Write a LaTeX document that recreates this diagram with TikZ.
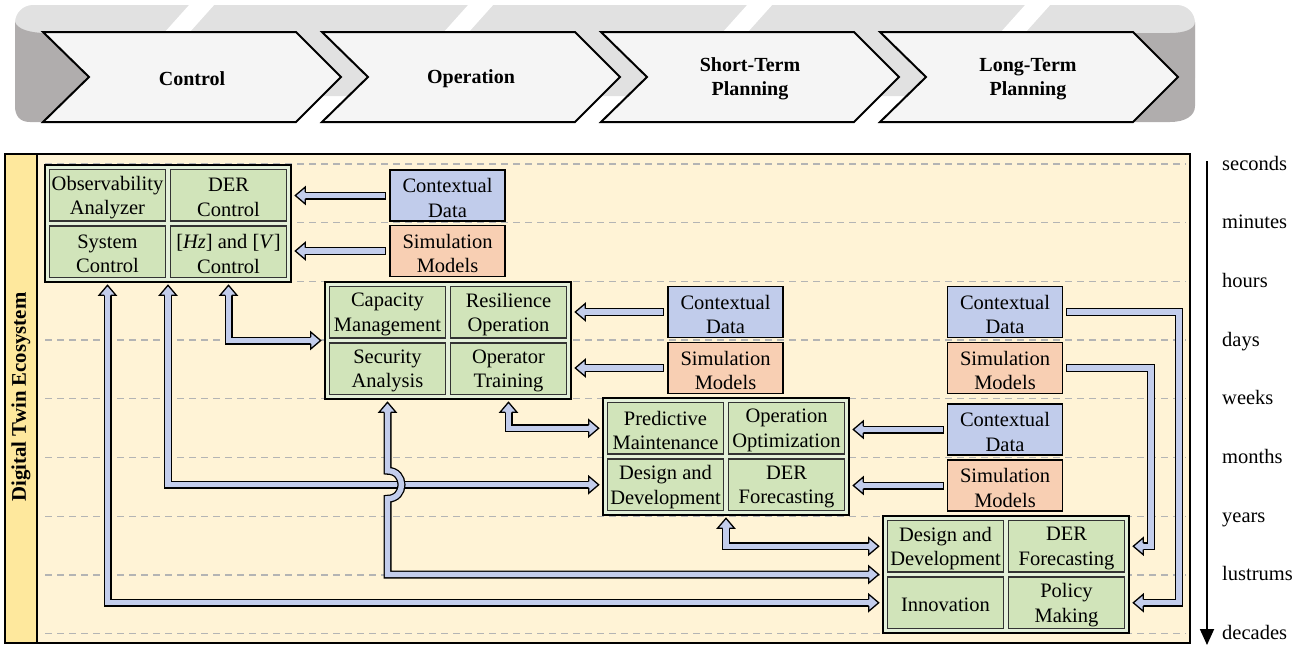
\documentclass[tikz,border=0pt]{standalone}
\usepackage{fontspec}
\setmainfont{Liberation Serif}
\usetikzlibrary{calc,arrows.meta}
\definecolor{cream}{HTML}{FFF3D6}
\definecolor{stripc}{HTML}{FEE89D}
\definecolor{gout}{HTML}{E4F0DA}
\definecolor{gcell}{HTML}{D1E4BA}
\definecolor{cdblue}{HTML}{C1CCEB}
\definecolor{smor}{HTML}{F8CFB3}
\definecolor{arrb}{HTML}{C3CDEC}
\definecolor{bandl}{HTML}{E1E1E1}
\definecolor{bandd}{HTML}{B0ADAD}
\definecolor{chev}{HTML}{F5F5F5}
\definecolor{dashc}{HTML}{B4B4B4}
\newcommand{\mycell}[5]{%
  \node[#1] (#2) at (#3,#4) {};
  \node[txt] (#2t) at (#3,#4+2.3) {#5};}
\begin{document}
\begin{tikzpicture}[x=1pt,y=-1pt,
  txt/.style={font=\fontsize{20.5}{24.5}\selectfont, align=center, inner sep=0pt},
  cell/.style={draw=black!80, fill=gcell, line width=1.2pt, minimum width=116pt, minimum height=51.5pt, inner sep=0pt},
  grp/.style={draw=black, fill=gout, line width=2.6pt, minimum width=246pt, minimum height=117pt, inner sep=0pt},
  side/.style={draw=black, line width=1.2pt, minimum width=115pt, minimum height=51pt, inner sep=0pt},
  cdbox/.style={side, fill=cdblue},
  smbox/.style={side, fill=smor},
  shaft/.style={draw=black, line width=1.3pt, double=arrb, double distance=5.4pt, line cap=rect, line join=miter},
  hd/.style={fill=arrb, draw=black, line width=1.3pt, line join=miter},
  headR/.pic={\filldraw[hd] (-10,-3.35) -- (-10,-8.5) -- (0,0) -- (-10,8.5) -- (-10,3.35);},
  headL/.pic={\filldraw[hd] (10,-3.35) -- (10,-8.5) -- (0,0) -- (10,8.5) -- (10,3.35);},
  headU/.pic={\filldraw[hd] (-3.35,10) -- (-8.5,10) -- (0,0) -- (8.5,10) -- (3.35,10);},
  chevtxt/.style={font=\fontsize{20}{24}\selectfont\bfseries, align=center, inner sep=0pt},
  tlab/.style={font=\fontsize{20.5}{24.5}\selectfont, anchor=base west, inner sep=0pt},
]
\useasboundingbox (0,0) rectangle (1304,646);

% ---------- banner ----------
\fill[bandl, rounded corners=18pt] (15,96) -- (15,5) -- (1195,5) -- (1195,96) -- cycle;
\foreach \c in {192,471,750,1028}
  \fill[white] (\c-2,4) -- (\c+23,4) -- (\c-3,33) -- (\c-28,33) -- cycle;
\fill[bandd] (15,22) .. controls (17,29) and (30,33) .. (46,33) -- (100,33) -- (100,122) -- (30,122) .. controls (20,122) and (15,116) .. (15,106) -- cycle;
\fill[bandd] (1120,33) -- (1170,33) .. controls (1185,33) and (1195,29) .. (1195,22) -- (1195,106) .. controls (1195,116) and (1185,122) .. (1170,122) -- (1120,122) -- cycle;
\foreach \i in {0,1,2,3} {
  \pgfmathsetmacro\L{43+279*\i}
  \filldraw[fill=chev, line width=2pt, line join=miter] (\L,32) -- (\L+253,32) -- (\L+298,77) -- (\L+253,122) -- (\L,122) -- (\L+46,77) -- cycle;
}
\node[chevtxt] (ph1) at (192,79) {Control};
\node[chevtxt] (ph2) at (471,79) {Operation};
\node[chevtxt] (ph3) at (750,79) {Short-Term\\Planning};
\node[chevtxt] (ph4) at (1028,79) {Long-Term\\Planning};

% ---------- main panel ----------
\fill[cream] (5,154) rectangle (1190,643);
\fill[stripc] (5,154) rectangle (37,643);
\foreach \k in {0,...,8}
  \draw[dashc, line width=1.3pt, dash pattern=on 7pt off 5pt] (45,{164+58.7*\k}) -- (1186,{164+58.7*\k});
\draw[line width=2.4pt] (37,154) -- (37,643);
\draw[line width=2.4pt] (5,154) rectangle (1190,643);
\node[rotate=90, font=\fontsize{20.8}{24}\selectfont\bfseries, inner sep=0pt] (dte) at (21,397) {Digital Twin Ecosystem};

% timeline
\coordinate (tTop) at (1207,161);
\coordinate (tBot) at (1207,645);
\draw[line width=1.8pt, -{Triangle[length=16pt,width=14pt]}] (tTop) -- (tBot);
\foreach \k/\t in {0/seconds,1/minutes,2/hours,3/days,4/weeks,5/months,6/years,7/lustrums,8/decades}
  \node[tlab] (tl\k) at (1222,{164+58.7*\k+6}) {\t};

% ---------- groups ----------
\node[grp] (g1) at (168,223.5) {};
\mycell{cell}{g1a}{107.5}{195.25}{Observability\\Analyzer}
\mycell{cell}{g1b}{228.5}{195.25}{DER\\Control}
\mycell{cell}{g1c}{107.5}{251.75}{System\\Control}
\mycell{cell}{g1d}{228.5}{251.75}{[\textit{Hz}] and [\textit{V}]\\Control}

\node[grp] (g2) at (448,340.5) {};
\mycell{cell}{g2a}{387.5}{312.25}{Capacity\\Management}
\mycell{cell}{g2b}{508.5}{312.25}{Resilience\\Operation}
\mycell{cell}{g2c}{387.5}{368.75}{Security\\Analysis}
\mycell{cell}{g2d}{508.5}{368.75}{Operator\\Training}

\node[grp] (g3) at (726,456.5) {};
\mycell{cell}{g3a}{665.5}{428.25}{Predictive\\Maintenance}
\mycell{cell}{g3b}{786.5}{428.25}{Operation\\Optimization}
\mycell{cell}{g3c}{665.5}{484.75}{Design and\\Development}
\mycell{cell}{g3d}{786.5}{484.75}{DER\\Forecasting}

\node[grp] (g4) at (1006,574.5) {};
\mycell{cell}{g4a}{945.5}{546.25}{Design and\\Development}
\mycell{cell}{g4b}{1066.5}{546.25}{DER\\Forecasting}
\mycell{cell}{g4c}{945.5}{602.75}{Innovation}
\mycell{cell}{g4d}{1066.5}{602.75}{Policy\\Making}

% ---------- side boxes ----------
\mycell{cdbox}{cd1}{447.5}{195.5}{Contextual\\Data}
\mycell{smbox}{sm1}{447.5}{251}{Simulation\\Models}
\mycell{cdbox}{cd2}{725.5}{312}{Contextual\\Data}
\mycell{smbox}{sm2}{725.5}{368}{Simulation\\Models}
\mycell{cdbox}{cd3}{1005}{429.5}{Contextual\\Data}
\mycell{smbox}{sm3}{1005}{485.5}{Simulation\\Models}
\mycell{cdbox}{cd4}{1005}{312}{Contextual\\Data}
\mycell{smbox}{sm4}{1005}{368}{Simulation\\Models}

% ---------- inputs to groups ----------
\foreach \s/\g in {cd1/g1,sm1/g1,cd2/g2,sm2/g2,cd3/g3,sm3/g3} {
  \coordinate (tip) at ($(\g.east |- \s.west)+(3,0)$);
  \draw[shaft] ($(\s.west)+(-7,0)$) -- ($(tip)+(9,0)$);
  \pic at (tip) {headL};
}
\coordinate (h1x) at (1179,0);
\coordinate (h2x) at (1151,0);
\coordinate (h1tip) at ($(g4.east |- g4d.center)+(3,0)$);
\coordinate (h2tip) at ($(g4.east |- g4b.center)+(3,0)$);
\draw[shaft] ($(cd4.east)+(7,0)$) -- (cd4.east -| h1x) |- ($(h1tip)+(9,0)$);
\draw[shaft] ($(sm4.east)+(7,0)$) -- (sm4.east -| h2x) |- ($(h2tip)+(9,0)$);
\pic at (h1tip) {headL};
\pic at (h2tip) {headL};

% ---------- links between groups ----------
\coordinate (aU) at ($(g1d.center |- g1.south)+(0,2)$);
\coordinate (aR) at ($(g2.west)+(-3,0)$);
\draw[shaft] ($(aU)+(0,9)$) |- ($(aR)+(-9,0)$);
\coordinate (bU) at ($(g1.south)+(0,2)$);
\coordinate (bR) at ($(g3.west |- g3c.center)+(-3,0)$);
\draw[shaft] ($(bU)+(0,9)$) |- ($(bR)+(-9,0)$);
\coordinate (cU) at ($(g1c.center |- g1.south)+(0,2)$);
\coordinate (cR) at ($(g4.west |- g4c.center)+(-3,0)$);
\draw[shaft] ($(cU)+(0,9)$) |- ($(cR)+(-9,0)$);
\coordinate (dU) at ($(g2c.center |- g2.south)+(0,2)$);
\coordinate (dR) at ($(g4.west)+(-3,0)$);
\coordinate (hop) at (dU |- bR);
\draw[shaft] ($(dU)+(0,9)$) -- ($(hop)+(0,-14)$) .. controls ($(hop)+(18.7,-14)$) and ($(hop)+(18.7,14)$) .. ($(hop)+(0,14)$) -- (dU |- dR) -- ($(dR)+(-9,0)$);
\coordinate (eU) at ($(g2d.center |- g2.south)+(0,2)$);
\coordinate (eR) at ($(g3.west |- g3a.center)+(-3,0)$);
\draw[shaft] ($(eU)+(0,9)$) |- ($(eR)+(-9,0)$);
\coordinate (fU) at ($(g3.south)+(0,2)$);
\coordinate (fR) at ($(g4.west |- g4a.center)+(-3,0)$);
\draw[shaft] ($(fU)+(0,9)$) |- ($(fR)+(-9,0)$);

\foreach \p in {aU,bU,cU,dU,eU,fU} \pic at (\p) {headU};
\foreach \p in {aR,bR,cR,dR,eR,fR} \pic at (\p) {headR};
\end{tikzpicture}
\end{document}
